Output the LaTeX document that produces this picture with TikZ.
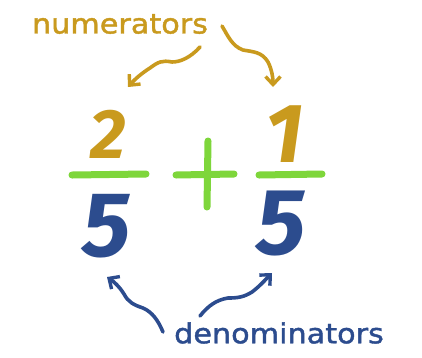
\documentclass[tikz,border=0pt]{standalone}
\usepackage{fontspec}
\usetikzlibrary{arrows.meta}
\newfontfamily\handfont[FakeStretch=1.1,FakeBold=1.5]{DejaVu Sans}
\newfontfamily\digitfont{Fira Sans}
\definecolor{gold}{HTML}{C99A1E}
\definecolor{lime}{HTML}{7ED63B}
\definecolor{navy}{HTML}{2C4C8E}
\tikzset{
  lbl/.style={inner sep=0pt, font=\handfont\fontsize{27.5}{27.5}\selectfont},
  dig/.style={inner sep=0pt},
  wave/.style={line width=3.6pt, line cap=round, line join=round,
    -{Straight Barb[length=8pt,width=15pt,line width=3.4pt]}},
  bar/.style={lime, line width=7pt, line cap=round}
}
\begin{document}
\begin{tikzpicture}[x=1pt,y=-1pt]
\useasboundingbox (0,0) rectangle (422,357);
\fill[white] (0,0) rectangle (422,357);
% labels
\node[lbl, text=gold] (num) at (120,24) {numerators};
\node[lbl, text=navy] (den) at (279,333) {denominators};
% digits
\node[dig, text=gold, font=\digitfont\bfseries\itshape\fontsize{70}{70}\selectfont] (n1) at (108,134) {2};
\node[dig, text=gold, font=\digitfont\bfseries\itshape\fontsize{84}{84}\selectfont] (n2) at (285,134) {1};
\node[dig, text=navy, font=\digitfont\bfseries\itshape\fontsize{92}{92}\selectfont] (d1) at (107,226) {5};
\node[dig, text=navy, font=\digitfont\bfseries\itshape\fontsize{94}{94}\selectfont] (d2) at (281,224) {5};
% bars and plus
\coordinate (b1l) at (72,175); \coordinate (b1r) at (146,174);
\coordinate (b2l) at (259,175); \coordinate (b2r) at (322,174);
\coordinate (pl) at (176,175); \coordinate (pr) at (234,174);
\coordinate (pt) at (208,141); \coordinate (pb) at (207,207);
\draw[bar] (b1l) -- (b1r);
\draw[bar] (b2l) -- (b2r);
\draw[bar] (pl) -- (pr);
\draw[bar] (pt) -- (pb);
% arrow endpoints
\coordinate (a1s) at (200,47); \coordinate (a1e) at (128,87);
\coordinate (a2s) at (222,26); \coordinate (a2e) at (273,87);
\coordinate (a3s) at (163,332); \coordinate (a3e) at (107,277);
\coordinate (a4s) at (200,316); \coordinate (a4e) at (272,273);
\draw[wave, gold] (a1s) .. controls (190,58) and (180,62) .. (172,62)
  .. controls (162,60) and (158,62) .. (150,68)
  .. controls (142,73) and (135,79) .. (a1e);
\draw[wave, gold] (a2s) .. controls (228,36) and (232,46) .. (243,50)
  .. controls (254,52) and (262,52) .. (268,62)
  .. controls (272,70) and (273,78) .. (a2e);
\draw[wave, navy] (a3s) .. controls (158,320) and (152,312) .. (143,308)
  .. controls (134,305) and (128,302) .. (124,294)
  .. controls (119,286) and (113,281) .. (a3e);
\draw[wave, navy] (a4s) .. controls (208,306) and (216,300) .. (228,298)
  .. controls (238,298) and (244,297) .. (252,292)
  .. controls (260,286) and (266,279) .. (a4e);
\end{tikzpicture}
\end{document}
